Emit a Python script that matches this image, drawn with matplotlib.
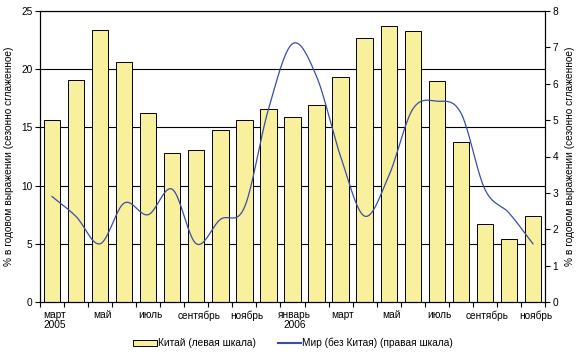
import matplotlib.pyplot as plt
import numpy as np
from matplotlib.patches import Patch
from matplotlib.lines import Line2D

plt.rcParams["font.family"] = ["Liberation Sans", "DejaVu Sans"]
plt.rcParams["font.size"] = 7.3

MONTHS = ["март\n2005", "", "май", "", "июль", "", "сентябрь", "", "ноябрь", "",
          "январь\n2006", "", "март", "", "май", "", "июль", "", "сентябрь", "", "ноябрь"]
CHINA = [15.6, 19.1, 23.4, 20.6, 16.2, 12.8, 13.1, 14.8, 15.6, 16.6, 15.9,
         16.9, 19.3, 22.7, 23.75, 23.3, 19.0, 13.75, 6.7, 5.4, 7.4]
WORLD = [2.9, 2.35, 1.6, 2.72, 2.4, 3.1, 1.6, 2.27, 2.6, 5.3, 7.1,
         6.2, 4.0, 2.36, 3.46, 5.3, 5.52, 5.2, 3.1, 2.45, 1.6]

BAR_COLOR = "#F8F09C"
LINE_COLOR = "#3A4DA8"
YLABEL = "% в годовом выражении (сезонно сглаженное)"


def smooth(y, n=20):
    # Catmull-Rom, like a spreadsheet "smoothed line"
    y = np.asarray(y, float)
    p = np.concatenate([[2 * y[0] - y[1]], y, [2 * y[-1] - y[-2]]])
    xs, ys = [], []
    t = np.linspace(0, 1, n, endpoint=False)
    for i in range(len(y) - 1):
        p0, p1, p2, p3 = p[i], p[i + 1], p[i + 2], p[i + 3]
        seg = 0.5 * (2 * p1 + (-p0 + p2) * t + (2 * p0 - 5 * p1 + 4 * p2 - p3) * t ** 2
                     + (-p0 + 3 * p1 - 3 * p2 + p3) * t ** 3)
        xs.extend(i + t)
        ys.extend(seg)
    xs.append(len(y) - 1)
    ys.append(y[-1])
    return np.array(xs), np.array(ys)


fig = plt.figure(figsize=(5.82, 3.59), dpi=100)
ax = fig.add_axes([40 / 582, 1 - 302 / 359, 505 / 582, 291 / 359])
x = np.arange(len(CHINA))
ax.bar(x, CHINA, width=0.68, color=BAR_COLOR, edgecolor="black", linewidth=0.7, zorder=2)
ax.set_xlim(-0.5, len(CHINA) - 0.5)
ax.set_ylim(0, 25)
ax.set_yticks(np.arange(0, 26, 5))
for v in range(5, 26, 5):
    ax.axhline(v, color="black", linewidth=0.8, zorder=1)
ax.set_xticks(np.arange(-0.5, len(CHINA), 1))
ax.set_xticklabels([])
ax.set_xticks(x + 0.1, minor=True)
ax.set_xticklabels(MONTHS, minor=True, multialignment="center", linespacing=0.95)
ax.tick_params(axis="x", which="minor", length=0, pad=6)
ax.tick_params(axis="x", which="major", length=3.5, direction="out")
ax.tick_params(axis="y", length=3.5, direction="out", pad=2)
ax.set_ylabel(YLABEL, labelpad=5)
for s in ax.spines.values():
    s.set_linewidth(0.8)

ax2 = ax.twinx()
xs, ys = smooth(WORLD)
ax2.plot(xs, ys, color=LINE_COLOR, linewidth=0.9, zorder=3)
ax2.set_ylim(0, 8)
ax2.set_yticks(range(9))
ax2.tick_params(axis="y", length=3.5, direction="out", pad=2)
ax2.set_ylabel(YLABEL, labelpad=5)

handles = [Patch(facecolor=BAR_COLOR, edgecolor="black", linewidth=0.7),
           Line2D([], [], color=LINE_COLOR, linewidth=1.5)]
fig.legend(handles, ["Китай (левая шкала)", "Мир (без Китая) (правая шкала)"],
           loc="center", bbox_to_anchor=(293 / 582, 1 - 343 / 359), ncol=2,
           frameon=False, handlelength=2.3, handleheight=0.5, handletextpad=0.1,
           columnspacing=2.2)

fig.savefig("out.png", dpi=100)
